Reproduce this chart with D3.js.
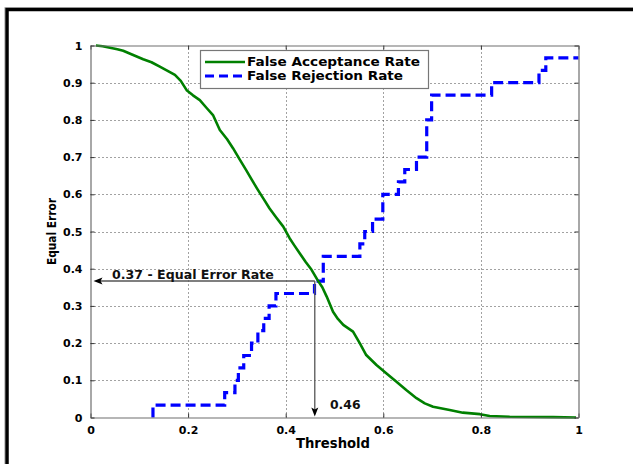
<!DOCTYPE html>
<html>
<head>
<meta charset="utf-8">
<script src="https://cdn.jsdelivr.net/npm/d3@7"></script>
<style>
  html, body { margin: 0; padding: 0; background: #fff; }
  svg { display: block; }
</style>
</head>
<body>
<svg id="chart" width="633" height="464"></svg>
<script>
// ---- data ----
const xTickValues = [0, 0.2, 0.4, 0.6, 0.8, 1];
const xTickLabels = ["0", "0.2", "0.4", "0.6", "0.8", "1"];
const yTickValues = [0, 0.1, 0.2, 0.3, 0.4, 0.5, 0.6, 0.7, 0.8, 0.9, 1];
const yTickLabels = ["0", "0.1", "0.2", "0.3", "0.4", "0.5", "0.6", "0.7", "0.8", "0.9", "1"];

// False Acceptance Rate: [threshold, rate]
const farThreshold = [0.011,0.025,0.040,0.055,0.067,0.085,0.108,0.125,0.142,0.158,0.173,0.185,0.197,0.210,0.224,0.238,0.251,0.265,0.280,0.292,0.305,0.319,0.331,0.343,0.355,0.367,0.381,0.395,0.408,0.418,0.429,0.441,0.453,0.466,0.475,0.484,0.497,0.507,0.518,0.538,0.552,0.565,0.586,0.606,0.627,0.647,0.668,0.685,0.702,0.736,0.763,0.798,0.818,0.859,0.948,0.995];
const farRate      = [1.000,0.998,0.994,0.990,0.986,0.976,0.963,0.955,0.943,0.932,0.921,0.905,0.880,0.866,0.853,0.832,0.813,0.773,0.748,0.724,0.695,0.665,0.638,0.612,0.587,0.562,0.537,0.513,0.482,0.462,0.441,0.418,0.397,0.368,0.350,0.325,0.284,0.265,0.249,0.231,0.199,0.168,0.141,0.119,0.096,0.074,0.052,0.038,0.029,0.020,0.013,0.009,0.004,0.002,0.001,0.000];

// False Rejection Rate: step function (value holds from threshold until next)
const frrThreshold = [0.128,0.128,0.275,0.296,0.303,0.314,0.330,0.343,0.355,0.366,0.380,0.459,0.477,0.552,0.562,0.578,0.599,0.631,0.644,0.668,0.689,0.699,0.822,0.919,0.933,1.0];
const frrRate      = [0.0,0.0333,0.0667,0.1,0.1333,0.1667,0.2,0.2333,0.2667,0.3,0.3333,0.3667,0.4333,0.4667,0.5,0.5333,0.6,0.6333,0.6667,0.7,0.8,0.8667,0.9,0.9333,0.9667,0.9667];

const eerValue = 0.367;
const eerThreshold = 0.4596;
const eerLabel = "0.37 - Equal Error Rate";
const thrLabel = "0.46";
const seriesNames = ["False Acceptance Rate", "False Rejection Rate"];

// ---- drawing ----
const svg = d3.select("#chart");
const x = d3.scaleLinear().domain([0, 1]).range([90.5, 578.5]);
const y = d3.scaleLinear().domain([0, 1]).range([417.5, 45.5]);

const boldFont = "DejaVu Sans, sans-serif";

// figure frame
svg.append("rect").attr("x", 0).attr("y", 0).attr("width", 633).attr("height", 464).attr("fill", "#fff");
svg.append("path").attr("d", "M4.5,470 V7.5 H640").attr("fill", "none").attr("stroke", "#c8c8c8").attr("stroke-width", 1);
svg.append("rect").attr("x", 7).attr("y", 9.5).attr("width", 700).attr("height", 600)
  .attr("fill", "#fff").attr("stroke", "#000").attr("stroke-width", 3.5);

// grid
const grid = svg.append("g");
grid.selectAll("line.vx").data(xTickValues.slice(1, -1)).join("line")
  .attr("x1", d => Math.round(x(d)) + 0.5).attr("x2", d => Math.round(x(d)) + 0.5)
  .attr("y1", y(0)).attr("y2", y(1))
  .attr("stroke", "#444").attr("stroke-width", 1).attr("stroke-dasharray", "1,3");
grid.selectAll("line.hy").data(yTickValues.slice(1, -1)).join("line")
  .attr("y1", d => Math.round(y(d)) + 0.5).attr("y2", d => Math.round(y(d)) + 0.5)
  .attr("x1", x(0)).attr("x2", x(1))
  .attr("stroke", "#444").attr("stroke-width", 1).attr("stroke-dasharray", "1,3");

// curves
const farData = farThreshold.map((t, i) => [t, farRate[i]]);
const frrData = frrThreshold.map((t, i) => [t, frrRate[i]]);

svg.append("path")
  .datum(frrData)
  .attr("d", d3.line().x(d => x(d[0])).y(d => y(d[1])).curve(d3.curveStepAfter))
  .attr("fill", "none").attr("stroke", "#0000ff").attr("stroke-width", 3.2)
  .attr("stroke-dasharray", "10,5");

svg.append("path")
  .datum(farData)
  .attr("d", d3.line().x(d => x(d[0])).y(d => y(d[1])))
  .attr("fill", "none").attr("stroke", "#008000").attr("stroke-width", 2.6)
  .attr("stroke-linejoin", "round");

// annotations
const ann = svg.append("g");
const ex = x(eerThreshold), ey = y(eerValue);
ann.append("line").attr("x1", ex).attr("y1", ey).attr("x2", x(0) + 6).attr("y2", ey)
  .attr("stroke", "#555").attr("stroke-width", 1.3);
ann.append("path")
  .attr("d", `M${x(0) + 3},${ey} L${x(0) + 12},${ey - 3.5} L${x(0) + 10},${ey} L${x(0) + 12},${ey + 3.5} Z`)
  .attr("fill", "#000");
ann.append("line").attr("x1", ex).attr("y1", ey).attr("x2", ex).attr("y2", y(0) - 6)
  .attr("stroke", "#555").attr("stroke-width", 1.3);
ann.append("path")
  .attr("d", `M${ex},${y(0) - 1} L${ex - 3.5},${y(0) - 10} L${ex},${y(0) - 8} L${ex + 3.5},${y(0) - 10} Z`)
  .attr("fill", "#000");
ann.append("text").attr("x", 112).attr("y", 278.5).text(eerLabel)
  .attr("font-family", boldFont).attr("font-weight", "bold").attr("font-size", 12.6).attr("fill", "#111");
ann.append("text").attr("x", 330).attr("y", 408.5).text(thrLabel)
  .attr("font-family", boldFont).attr("font-weight", "bold").attr("font-size", 12.4).attr("fill", "#111");

// axes box and ticks
const axColor = "#6e6e6e";
const axB = svg.append("g").attr("transform", `translate(0,${y(0)})`)
  .call(d3.axisBottom(x).tickValues(xTickValues).tickFormat((d, i) => xTickLabels[i]).tickSize(-4).tickSizeOuter(0).tickPadding(9));
const axT = svg.append("g").attr("transform", `translate(0,${y(1)})`)
  .call(d3.axisTop(x).tickValues(xTickValues).tickFormat("").tickSize(-4).tickSizeOuter(0));
const axL = svg.append("g").attr("transform", `translate(${x(0)},0)`)
  .call(d3.axisLeft(y).tickValues(yTickValues).tickFormat((d, i) => yTickLabels[i]).tickSize(-4).tickSizeOuter(0).tickPadding(8));
const axR = svg.append("g").attr("transform", `translate(${x(1)},0)`)
  .call(d3.axisRight(y).tickValues(yTickValues).tickFormat("").tickSize(-4).tickSizeOuter(0));
[axB, axT, axL, axR].forEach(g => {
  g.select(".domain").attr("stroke", axColor).attr("stroke-width", 1.2);
  g.selectAll(".tick line").attr("stroke", "#333");
  g.selectAll("text").attr("font-family", boldFont).attr("font-weight", "bold")
    .attr("font-size", 11).attr("fill", "#000");
});
axB.selectAll("text").attr("dy", "0.71em");

// axis labels
svg.append("text").attr("x", 333).attr("y", 448).attr("text-anchor", "middle")
  .attr("font-family", boldFont).attr("font-weight", "bold").attr("font-size", 13.2).text("Threshold");
svg.append("text").attr("transform", `translate(56,${(y(0) + y(1)) / 2}) rotate(-90)`)
  .attr("text-anchor", "middle").attr("font-family", boldFont).attr("font-size", 12)
  .attr("font-weight", "bold").attr("textLength", 67).attr("lengthAdjust", "spacingAndGlyphs").text("Equal Error");

// legend
const leg = svg.append("g");
leg.append("rect").attr("x", 200.5).attr("y", 50.5).attr("width", 228).attr("height", 38)
  .attr("fill", "#fff").attr("stroke", "#777").attr("stroke-width", 1.2);
const legRows = [
  { name: seriesNames[0], color: "#008000", dash: null, w: 2.6, yy: 62, len: 173 },
  { name: seriesNames[1], color: "#0000ff", dash: "9,5", w: 3.2, yy: 76, len: 156 }
];
legRows.forEach(r => {
  leg.append("line").attr("x1", 205).attr("x2", 245).attr("y1", r.yy).attr("y2", r.yy)
    .attr("stroke", r.color).attr("stroke-width", r.w).attr("stroke-dasharray", r.dash);
  leg.append("text").attr("x", 247).attr("y", r.yy + 4.4).text(r.name)
    .attr("textLength", r.len).attr("lengthAdjust", "spacingAndGlyphs")
    .attr("font-family", boldFont).attr("font-weight", "bold").attr("font-size", 12).attr("fill", "#000");
});
</script>
</body>
</html>
